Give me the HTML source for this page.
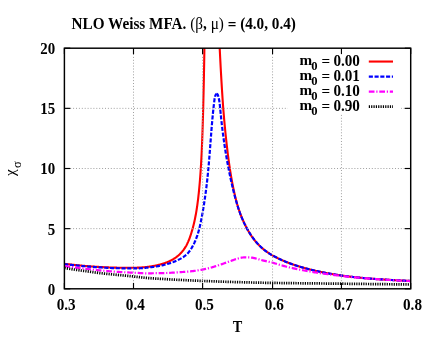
<!DOCTYPE html>
<html><head><meta charset="utf-8"><title>NLO Weiss MFA</title>
<style>
html,body{margin:0;padding:0;background:#fff;}
body{width:436px;height:337px;overflow:hidden;}
svg{display:block;will-change:transform;}
text{font-family:"Liberation Serif",serif;font-size:15.2px;fill:#000;}
.b{font-weight:bold;}
.grid{stroke:#a0a0a0;stroke-width:1;stroke-dasharray:1 1.9;fill:none;}
.tick{stroke:#000;stroke-width:1.15;fill:none;}
.c-red{stroke:#ff0000;stroke-width:2.1;fill:none;stroke-linejoin:round;}
.c-blue{stroke:#0000ff;stroke-width:2.2;fill:none;stroke-dasharray:4.1 1.65;stroke-linejoin:round;}
.c-mag{stroke:#ff00ff;stroke-width:2.2;fill:none;stroke-dasharray:5.7 1.8 1.2 1.8;stroke-linejoin:round;}
.c-blk{stroke:#000;stroke-width:2.7;fill:none;stroke-dasharray:1.2 1.14;}
</style></head>
<body>
<svg width="436" height="337" viewBox="0 0 436 337">
<rect x="0" y="0" width="436" height="337" fill="#fff"/>
<text transform="translate(71.55,28.9) scale(1.002,1.045)" class="b">NLO Weiss MFA. <tspan font-weight="normal">(&#946;</tspan>, <tspan font-weight="normal">&#956;)</tspan> <tspan dy="1.2">=</tspan><tspan dy="-1.2"> (4.0, 0.4)</tspan></text>
<clipPath id="clip"><rect x="64.4" y="48.2" width="346.29999999999995" height="240.60000000000002"/></clipPath>
<g clip-path="url(#clip)">
<path d="M64.40,263.85 L64.69,263.88 L64.98,263.91 L65.27,263.94 L65.57,263.97 L65.86,264.00 L66.15,264.03 L66.44,264.06 L66.73,264.09 L67.02,264.12 L67.31,264.15 L67.61,264.18 L67.90,264.21 L68.19,264.24 L68.48,264.28 L68.77,264.31 L69.06,264.34 L69.36,264.37 L69.65,264.40 L69.94,264.43 L70.23,264.46 L70.52,264.49 L70.81,264.52 L71.10,264.55 L71.40,264.58 L71.69,264.62 L71.98,264.65 L72.27,264.68 L72.56,264.71 L72.85,264.74 L73.14,264.77 L73.44,264.80 L73.73,264.83 L74.02,264.86 L74.31,264.89 L74.60,264.92 L74.89,264.95 L75.18,264.98 L75.48,265.01 L75.77,265.04 L76.06,265.07 L76.35,265.10 L76.64,265.13 L76.93,265.16 L77.22,265.19 L77.52,265.22 L77.81,265.25 L78.10,265.28 L78.39,265.31 L78.68,265.34 L78.97,265.36 L79.27,265.39 L79.56,265.42 L79.85,265.45 L80.14,265.48 L80.43,265.51 L80.72,265.54 L81.01,265.56 L81.31,265.59 L81.60,265.62 L81.89,265.65 L82.18,265.67 L82.47,265.70 L82.76,265.73 L83.05,265.76 L83.35,265.78 L83.64,265.81 L83.93,265.84 L84.22,265.86 L84.51,265.89 L84.80,265.91 L85.09,265.94 L85.39,265.97 L85.68,265.99 L85.97,266.02 L86.26,266.04 L86.55,266.07 L86.84,266.09 L87.14,266.12 L87.43,266.14 L87.72,266.16 L88.01,266.19 L88.30,266.21 L88.59,266.23 L88.88,266.26 L89.18,266.28 L89.47,266.30 L89.76,266.32 L90.05,266.35 L90.34,266.37 L90.63,266.39 L90.92,266.41 L91.22,266.43 L91.51,266.45 L91.80,266.47 L92.09,266.49 L92.38,266.52 L92.67,266.54 L92.96,266.56 L93.26,266.58 L93.55,266.60 L93.84,266.61 L94.13,266.63 L94.42,266.65 L94.71,266.67 L95.00,266.69 L95.30,266.71 L95.59,266.73 L95.88,266.75 L96.17,266.76 L96.46,266.78 L96.75,266.80 L97.05,266.82 L97.34,266.83 L97.63,266.85 L97.92,266.87 L98.21,266.89 L98.50,266.90 L98.79,266.92 L99.09,266.94 L99.38,266.95 L99.67,266.97 L99.96,266.99 L100.25,267.00 L100.54,267.02 L100.83,267.03 L101.13,267.05 L101.42,267.06 L101.71,267.08 L102.00,267.10 L102.29,267.11 L102.58,267.13 L102.87,267.14 L103.17,267.16 L103.46,267.17 L103.75,267.18 L104.04,267.20 L104.33,267.21 L104.62,267.23 L104.92,267.24 L105.21,267.26 L105.50,267.27 L105.79,267.28 L106.08,267.30 L106.37,267.31 L106.66,267.33 L106.96,267.34 L107.25,267.35 L107.54,267.36 L107.83,267.38 L108.12,267.39 L108.41,267.40 L108.70,267.41 L109.00,267.43 L109.29,267.44 L109.58,267.45 L109.87,267.46 L110.16,267.47 L110.45,267.48 L110.74,267.49 L111.04,267.51 L111.33,267.52 L111.62,267.53 L111.91,267.54 L112.20,267.55 L112.49,267.55 L112.78,267.56 L113.08,267.57 L113.37,267.58 L113.66,267.59 L113.95,267.60 L114.24,267.61 L114.53,267.62 L114.83,267.62 L115.12,267.63 L115.41,267.64 L115.70,267.64 L115.99,267.65 L116.28,267.66 L116.57,267.66 L116.87,267.67 L117.16,267.68 L117.45,267.68 L117.74,267.69 L118.03,267.69 L118.32,267.70 L118.61,267.70 L118.91,267.70 L119.20,267.71 L119.49,267.71 L119.78,267.71 L120.07,267.72 L120.36,267.72 L120.65,267.72 L120.95,267.73 L121.24,267.73 L121.53,267.73 L121.82,267.74 L122.11,267.74 L122.40,267.75 L122.69,267.75 L122.99,267.75 L123.28,267.76 L123.57,267.76 L123.86,267.77 L124.15,267.77 L124.44,267.77 L124.74,267.78 L125.03,267.78 L125.32,267.78 L125.61,267.79 L125.90,267.79 L126.19,267.79 L126.48,267.79 L126.78,267.80 L127.07,267.80 L127.36,267.80 L127.65,267.80 L127.94,267.80 L128.23,267.80 L128.52,267.80 L128.82,267.80 L129.11,267.80 L129.40,267.80 L129.69,267.80 L129.98,267.80 L130.27,267.80 L130.56,267.79 L130.86,267.79 L131.15,267.79 L131.44,267.79 L131.73,267.78 L132.02,267.78 L132.31,267.78 L132.61,267.77 L132.90,267.77 L133.19,267.77 L133.48,267.76 L133.77,267.76 L134.06,267.75 L134.35,267.75 L134.65,267.74 L134.94,267.74 L135.23,267.73 L135.52,267.73 L135.81,267.72 L136.10,267.71 L136.39,267.70 L136.69,267.69 L136.98,267.68 L137.27,267.67 L137.56,267.66 L137.85,267.65 L138.14,267.64 L138.43,267.63 L138.73,267.62 L139.02,267.60 L139.31,267.59 L139.60,267.57 L139.89,267.55 L140.18,267.54 L140.47,267.52 L140.77,267.50 L141.06,267.48 L141.35,267.46 L141.64,267.44 L141.93,267.42 L142.22,267.40 L142.52,267.37 L142.81,267.35 L143.10,267.33 L143.39,267.30 L143.68,267.28 L143.97,267.25 L144.26,267.22 L144.56,267.20 L144.85,267.17 L145.14,267.14 L145.43,267.11 L145.72,267.08 L146.01,267.05 L146.30,267.02 L146.60,266.98 L146.89,266.95 L147.18,266.92 L147.47,266.88 L147.76,266.85 L148.05,266.81 L148.34,266.77 L148.64,266.74 L148.93,266.70 L149.22,266.66 L149.51,266.62 L149.80,266.58 L150.09,266.53 L150.39,266.49 L150.68,266.45 L150.97,266.40 L151.26,266.36 L151.55,266.31 L151.84,266.26 L152.13,266.21 L152.43,266.16 L152.72,266.11 L153.01,266.06 L153.30,266.01 L153.59,265.96 L153.88,265.90 L154.17,265.85 L154.47,265.79 L154.76,265.73 L155.05,265.67 L155.34,265.61 L155.63,265.55 L155.92,265.49 L156.21,265.43 L156.51,265.37 L156.80,265.30 L157.09,265.24 L157.38,265.17 L157.67,265.10 L157.96,265.03 L158.25,264.96 L158.55,264.89 L158.84,264.82 L159.13,264.75 L159.42,264.67 L159.71,264.60 L160.00,264.52 L160.30,264.44 L160.59,264.36 L160.88,264.29 L161.17,264.20 L161.46,264.12 L161.75,264.04 L162.04,263.96 L162.34,263.87 L162.63,263.78 L162.92,263.69 L163.21,263.60 L163.50,263.51 L163.79,263.42 L164.08,263.32 L164.38,263.22 L164.67,263.12 L164.96,263.02 L165.25,262.92 L165.54,262.81 L165.83,262.70 L166.12,262.59 L166.42,262.48 L166.71,262.36 L167.00,262.24 L167.29,262.12 L167.58,262.00 L167.87,261.88 L168.17,261.75 L168.46,261.62 L168.75,261.49 L169.04,261.36 L169.33,261.22 L169.62,261.09 L169.91,260.95 L170.21,260.80 L170.50,260.66 L170.79,260.51 L171.08,260.36 L171.37,260.21 L171.66,260.05 L171.95,259.89 L172.25,259.73 L172.54,259.57 L172.83,259.40 L173.12,259.23 L173.41,259.05 L173.70,258.88 L173.99,258.70 L174.29,258.51 L174.58,258.32 L174.87,258.13 L175.16,257.94 L175.45,257.74 L175.74,257.53 L176.03,257.32 L176.33,257.11 L176.62,256.89 L176.91,256.67 L177.20,256.44 L177.49,256.21 L177.78,255.97 L178.08,255.72 L178.37,255.47 L178.66,255.22 L178.95,254.96 L179.24,254.69 L179.53,254.42 L179.82,254.14 L180.12,253.85 L180.41,253.56 L180.70,253.26 L180.99,252.95 L181.28,252.64 L181.57,252.32 L181.86,251.98 L182.16,251.64 L182.45,251.29 L182.74,250.93 L183.03,250.56 L183.32,250.18 L183.61,249.79 L183.90,249.38 L184.20,248.97 L184.49,248.54 L184.78,248.10 L185.07,247.64 L185.36,247.18 L185.65,246.69 L185.95,246.20 L186.24,245.69 L186.53,245.15 L186.82,244.58 L187.11,244.00 L187.40,243.38 L187.69,242.75 L187.99,242.10 L188.28,241.43 L188.57,240.73 L188.86,240.03 L189.15,239.30 L189.44,238.55 L189.73,237.77 L190.03,236.96 L190.32,236.13 L190.61,235.26 L190.90,234.38 L191.19,233.47 L191.48,232.53 L191.77,231.57 L192.07,230.58 L192.36,229.58 L192.65,228.54 L192.94,227.47 L193.23,226.35 L193.52,225.20 L193.81,224.00 L194.11,222.76 L194.40,221.48 L194.69,220.14 L194.98,218.74 L195.27,217.31 L195.56,215.80 L195.86,214.22 L196.15,212.57 L196.44,210.83 L196.73,209.01 L197.02,207.08 L197.31,205.06 L197.60,202.92 L197.90,200.66 L198.19,198.26 L198.48,195.72 L198.77,193.02 L199.06,190.15 L199.35,187.08 L199.64,183.80 L199.94,180.29 L200.23,176.52 L200.52,172.47 L200.81,168.08 L201.10,163.34 L201.39,158.18 L201.67,152.56 L201.94,146.40 L202.22,139.63 L202.49,132.15 L202.76,123.85 L203.03,114.58 L203.29,104.16 L203.58,92.36 L203.87,78.89 L204.16,63.38 L204.45,45.30 L204.74,23.99" class="c-red"/>
<path d="M217.99,15.54 L218.28,21.28 L218.56,26.90 L218.84,32.40 L219.12,37.77 L219.41,43.03 L219.69,48.16 L219.95,53.17 L220.19,58.06 L220.44,62.83 L220.68,67.47 L220.93,72.00 L221.18,76.41 L221.43,80.71 L221.68,84.89 L221.93,88.96 L222.18,92.92 L222.43,96.77 L222.69,100.52 L222.94,104.17 L223.19,107.72 L223.48,111.18 L223.76,114.53 L224.04,117.80 L224.32,120.98 L224.60,124.07 L224.89,127.08 L225.17,130.00 L225.45,132.85 L225.73,135.62 L226.02,138.31 L226.30,140.93 L226.58,143.48 L226.86,145.97 L227.15,148.38 L227.43,150.74 L227.71,153.03 L227.99,155.26 L228.28,157.43 L228.56,159.55 L228.84,161.61 L229.12,163.61 L229.41,165.57 L229.69,167.47 L229.97,169.33 L230.25,171.14 L230.53,172.91 L230.82,174.63 L231.10,176.31 L231.38,177.95 L231.66,179.54 L231.95,181.10 L232.23,182.62 L232.51,184.11 L232.79,185.55 L233.08,186.97 L233.36,188.35 L233.64,189.70 L233.92,191.02 L234.21,192.30 L234.49,193.56 L234.77,194.79 L235.05,195.99 L235.34,197.16 L235.62,198.31 L235.90,199.43 L236.19,200.53 L236.47,201.60 L236.76,202.65 L237.04,203.68 L237.33,204.68 L237.62,205.67 L237.90,206.63 L238.19,207.57 L238.48,208.49 L238.78,209.40 L239.07,210.28 L239.36,211.15 L239.66,212.00 L239.95,212.83 L240.25,213.65 L240.55,214.44 L240.85,215.23 L241.15,216.00 L241.45,216.75 L241.75,217.49 L242.05,218.21 L242.35,218.92 L242.65,219.62 L242.96,220.30 L243.26,220.97 L243.56,221.63 L243.86,222.28 L244.16,222.91 L244.45,223.53 L244.75,224.14 L245.05,224.74 L245.34,225.33 L245.63,225.91 L245.92,226.48 L246.21,227.04 L246.50,227.59 L246.79,228.13 L247.08,228.66 L247.36,229.18 L247.65,229.69 L247.93,230.20 L248.21,230.69 L248.49,231.18 L248.77,231.66 L249.05,232.13 L249.33,232.59 L249.60,233.05 L249.88,233.50 L250.15,233.94 L250.43,234.38 L250.70,234.80 L250.98,235.22 L251.25,235.64 L251.52,236.05 L251.80,236.45 L252.07,236.85 L252.34,237.24 L252.61,237.62 L252.89,238.00 L253.16,238.37 L253.43,238.74 L253.70,239.10 L253.98,239.46 L254.25,239.81 L254.52,240.15 L254.79,240.50 L255.07,240.83 L255.34,241.17 L255.61,241.49 L255.89,241.82 L256.16,242.13 L256.44,242.45 L256.71,242.76 L256.99,243.06 L257.26,243.37 L257.54,243.66 L257.81,243.96 L258.09,244.25 L258.36,244.53 L258.64,244.82 L258.91,245.09 L259.19,245.37 L259.47,245.64 L259.74,245.91 L260.02,246.17 L260.30,246.44 L260.58,246.69 L260.85,246.95 L261.13,247.20 L261.41,247.45 L261.69,247.70 L261.97,247.94 L262.25,248.18 L262.52,248.42 L262.80,248.65 L263.08,248.89 L263.36,249.11 L263.64,249.34 L263.92,249.57 L264.20,249.79 L264.48,250.01 L264.76,250.22 L265.04,250.44 L265.32,250.65 L265.60,250.86 L265.88,251.07 L266.16,251.27 L266.44,251.48 L266.72,251.68 L267.00,251.88 L267.28,252.07 L267.56,252.27 L267.84,252.46 L268.13,252.65 L268.41,252.84 L268.69,253.03 L268.97,253.21 L269.25,253.40 L269.53,253.58 L269.81,253.76 L270.09,253.93 L270.38,254.11 L270.66,254.29 L270.94,254.46 L271.22,254.63 L271.50,254.80 L271.78,254.97 L272.06,255.13 L272.35,255.30 L272.63,255.46 L272.91,255.63 L273.19,255.79 L273.47,255.95 L273.75,256.10 L274.04,256.26 L274.32,256.41 L274.60,256.57 L274.88,256.72 L275.16,256.87 L275.45,257.02 L275.73,257.17 L276.01,257.32 L276.29,257.46 L276.57,257.61 L276.86,257.75 L277.14,257.90 L277.42,258.04 L277.70,258.18 L277.98,258.32 L278.27,258.46 L278.55,258.59 L278.83,258.73 L279.11,258.86 L279.39,259.00 L279.68,259.13 L279.96,259.26 L280.24,259.39 L280.52,259.52 L280.81,259.65 L281.09,259.78 L281.37,259.91 L281.65,260.03 L281.93,260.16 L282.22,260.28 L282.50,260.41 L282.78,260.53 L283.06,260.65 L283.35,260.77 L283.63,260.89 L283.91,261.01 L284.19,261.13 L284.47,261.25 L284.76,261.36 L285.04,261.48 L285.32,261.59 L285.60,261.71 L285.89,261.82 L286.17,261.94 L286.45,262.05 L286.73,262.16 L287.02,262.27 L287.30,262.38 L287.58,262.49 L287.86,262.60 L288.14,262.71 L288.43,262.81 L288.71,262.92 L288.99,263.03 L289.27,263.13 L289.56,263.24 L289.84,263.34 L290.12,263.45 L290.40,263.55 L290.69,263.65 L290.97,263.75 L291.25,263.85 L291.53,263.95 L291.81,264.05 L292.10,264.15 L292.38,264.25 L292.66,264.35 L292.94,264.45 L293.23,264.54 L293.51,264.64 L293.79,264.74 L294.07,264.83 L294.36,264.93 L294.64,265.02 L294.92,265.11 L295.20,265.21 L295.49,265.30 L295.77,265.39 L296.05,265.48 L296.33,265.58 L296.61,265.67 L296.90,265.76 L297.18,265.85 L297.46,265.94 L297.74,266.02 L298.03,266.11 L298.31,266.20 L298.59,266.29 L298.87,266.37 L299.16,266.46 L299.44,266.55 L299.72,266.63 L300.00,266.72 L300.29,266.80 L300.57,266.89 L300.85,266.97 L301.13,267.05 L301.42,267.14 L301.70,267.22 L301.98,267.30 L302.26,267.38 L302.54,267.46 L302.83,267.54 L303.11,267.63 L303.39,267.71 L303.67,267.78 L303.96,267.86 L304.24,267.94 L304.52,268.02 L304.80,268.10 L305.09,268.18 L305.37,268.25 L305.65,268.33 L305.93,268.41 L306.22,268.48 L306.50,268.56 L306.78,268.63 L307.06,268.71 L307.35,268.78 L307.63,268.86 L307.91,268.93 L308.19,269.00 L308.47,269.08 L308.76,269.15 L309.04,269.22 L309.32,269.29 L309.60,269.37 L309.89,269.44 L310.17,269.51 L310.45,269.58 L310.73,269.65 L311.02,269.72 L311.30,269.79 L311.58,269.86 L311.86,269.93 L312.15,270.00 L312.43,270.06 L312.71,270.13 L312.99,270.20 L313.28,270.27 L313.56,270.33 L313.84,270.40 L314.12,270.47 L314.40,270.53 L314.69,270.60 L314.97,270.66 L315.25,270.73 L315.53,270.79 L315.82,270.86 L316.10,270.92 L316.38,270.98 L316.66,271.05 L316.95,271.11 L317.23,271.17 L317.51,271.23 L317.79,271.30 L318.08,271.36 L318.36,271.42 L318.64,271.48 L318.92,271.54 L319.21,271.60 L319.49,271.66 L319.77,271.72 L320.05,271.78 L320.34,271.84 L320.62,271.90 L320.90,271.96 L321.18,272.02 L321.46,272.08 L321.75,272.13 L322.03,272.19 L322.31,272.25 L322.59,272.31 L322.88,272.36 L323.16,272.42 L323.44,272.48 L323.72,272.53 L324.01,272.59 L324.29,272.64 L324.57,272.70 L324.85,272.75 L325.14,272.81 L325.42,272.86 L325.70,272.91 L325.98,272.97 L326.27,273.02 L326.55,273.07 L326.83,273.13 L327.11,273.18 L327.39,273.23 L327.68,273.28 L327.96,273.34 L328.24,273.39 L328.52,273.44 L328.81,273.49 L329.09,273.54 L329.37,273.59 L329.65,273.64 L329.94,273.69 L330.22,273.74 L330.50,273.79 L330.78,273.84 L331.07,273.89 L331.35,273.94 L331.63,273.98 L331.91,274.03 L332.20,274.08 L332.48,274.13 L332.76,274.18 L333.04,274.22 L333.33,274.27 L333.61,274.32 L333.89,274.36 L334.17,274.41 L334.45,274.45 L334.74,274.50 L335.02,274.55 L335.30,274.59 L335.58,274.64 L335.87,274.68 L336.15,274.72 L336.43,274.77 L336.71,274.81 L337.00,274.86 L337.28,274.90 L337.56,274.94 L337.84,274.99 L338.13,275.03 L338.41,275.07 L338.69,275.11 L338.97,275.16 L339.26,275.20 L339.54,275.24 L339.82,275.28 L340.10,275.32 L340.38,275.36 L340.67,275.40 L340.95,275.44 L341.23,275.48 L341.51,275.52 L341.80,275.56 L342.08,275.60 L342.36,275.64 L342.64,275.68 L342.93,275.72 L343.21,275.76 L343.49,275.80 L343.77,275.84 L344.06,275.87 L344.34,275.91 L344.62,275.95 L344.90,275.99 L345.19,276.02 L345.47,276.06 L345.75,276.10 L346.03,276.14 L346.31,276.17 L346.60,276.21 L346.88,276.24 L347.16,276.28 L347.44,276.32 L347.73,276.35 L348.01,276.39 L348.29,276.42 L348.57,276.46 L348.86,276.49 L349.14,276.52 L349.42,276.56 L349.70,276.59 L349.99,276.63 L350.27,276.66 L350.55,276.69 L350.83,276.73 L351.12,276.76 L351.40,276.79 L351.68,276.83 L351.96,276.86 L352.25,276.89 L352.53,276.92 L352.81,276.95 L353.09,276.99 L353.37,277.02 L353.66,277.05 L353.94,277.08 L354.22,277.11 L354.50,277.14 L354.79,277.17 L355.07,277.20 L355.35,277.23 L355.63,277.26 L355.92,277.29 L356.20,277.32 L356.48,277.35 L356.76,277.38 L357.05,277.41 L357.33,277.44 L357.61,277.47 L357.89,277.50 L358.18,277.53 L358.46,277.55 L358.74,277.58 L359.02,277.61 L359.30,277.64 L359.59,277.67 L359.87,277.69 L360.15,277.72 L360.43,277.75 L360.72,277.78 L361.00,277.80 L361.28,277.83 L361.56,277.86 L361.85,277.88 L362.13,277.91 L362.41,277.93 L362.69,277.96 L362.98,277.99 L363.26,278.01 L363.54,278.04 L363.82,278.06 L364.11,278.09 L364.39,278.11 L364.67,278.14 L364.95,278.16 L365.24,278.19 L365.52,278.21 L365.80,278.24 L366.08,278.26 L366.36,278.29 L366.65,278.31 L366.93,278.33 L367.21,278.36 L367.49,278.38 L367.78,278.40 L368.06,278.43 L368.34,278.45 L368.62,278.47 L368.91,278.50 L369.19,278.52 L369.47,278.54 L369.75,278.56 L370.04,278.59 L370.32,278.61 L370.60,278.63 L370.88,278.65 L371.17,278.67 L371.45,278.70 L371.73,278.72 L372.01,278.74 L372.29,278.76 L372.58,278.78 L372.86,278.80 L373.14,278.82 L373.42,278.84 L373.71,278.86 L373.99,278.89 L374.27,278.91 L374.55,278.93 L374.84,278.95 L375.12,278.97 L375.40,278.99 L375.68,279.01 L375.97,279.03 L376.25,279.05 L376.53,279.07 L376.81,279.09 L377.10,279.10 L377.38,279.12 L377.66,279.14 L377.94,279.16 L378.23,279.18 L378.51,279.20 L378.79,279.22 L379.07,279.24 L379.35,279.26 L379.64,279.27 L379.92,279.29 L380.20,279.31 L380.48,279.33 L380.77,279.35 L381.05,279.37 L381.33,279.38 L381.61,279.40 L381.90,279.42 L382.18,279.44 L382.46,279.45 L382.74,279.47 L383.03,279.49 L383.31,279.51 L383.59,279.52 L383.87,279.54 L384.16,279.56 L384.44,279.58 L384.72,279.59 L385.00,279.61 L385.28,279.63 L385.57,279.64 L385.85,279.66 L386.13,279.68 L386.41,279.69 L386.70,279.71 L386.98,279.73 L387.26,279.74 L387.54,279.76 L387.83,279.78 L388.11,279.79 L388.39,279.81 L388.67,279.82 L388.96,279.84 L389.24,279.86 L389.52,279.87 L389.80,279.89 L390.09,279.90 L390.37,279.92 L390.65,279.93 L390.93,279.95 L391.22,279.97 L391.50,279.98 L391.78,280.00 L392.06,280.01 L392.34,280.03 L392.63,280.04 L392.91,280.06 L393.19,280.07 L393.47,280.09 L393.76,280.10 L394.04,280.12 L394.32,280.13 L394.60,280.15 L394.89,280.17 L395.17,280.18 L395.45,280.20 L395.73,280.21 L396.02,280.23 L396.30,280.24 L396.58,280.25 L396.86,280.27 L397.15,280.28 L397.43,280.30 L397.71,280.31 L397.99,280.33 L398.27,280.34 L398.56,280.36 L398.84,280.37 L399.12,280.39 L399.40,280.40 L399.69,280.42 L399.97,280.43 L400.25,280.45 L400.53,280.46 L400.82,280.48 L401.10,280.49 L401.38,280.51 L401.66,280.52 L401.95,280.54 L402.23,280.55 L402.51,280.57 L402.79,280.58 L403.08,280.59 L403.36,280.61 L403.64,280.62 L403.92,280.64 L404.21,280.65 L404.49,280.67 L404.77,280.68 L405.05,280.70 L405.33,280.71 L405.62,280.73 L405.90,280.74 L406.18,280.76 L406.46,280.77 L406.75,280.79 L407.03,280.80 L407.31,280.82 L407.59,280.83 L407.88,280.85 L408.16,280.86 L408.44,280.88 L408.72,280.89 L409.01,280.91 L409.29,280.92 L409.57,280.94 L409.85,280.96 L410.14,280.97 L410.42,280.99 L410.70,281.00" class="c-red"/>
<path d="M216.72,93.76 L216.37,93.92 L216.06,94.32 L215.78,94.78 L215.54,95.25 L215.33,95.75 L215.15,96.26 L215.00,96.78 L214.86,97.32 L214.75,97.87 L214.65,98.42 L214.56,98.98 L214.49,99.54 L214.41,100.10 L214.35,100.66 L214.28,101.22 L214.21,101.78 L214.14,102.33 L214.08,102.89 L214.01,103.44 L213.95,103.99 L213.89,104.53 L213.82,105.08 L213.76,105.63 L213.70,106.17 L213.64,106.72 L213.58,107.26 L213.52,107.80 L213.46,108.35 L213.40,108.89 L213.34,109.43 L213.28,109.98 L213.22,110.52 L213.17,111.07 L213.11,111.61 L213.06,112.16 L213.00,112.70 L212.95,113.24 L212.89,113.79 L212.84,114.33 L212.79,114.88 L212.73,115.42 L212.68,115.97 L212.63,116.52 L212.58,117.06 L212.53,117.61 L212.47,118.15 L212.42,118.70 L212.37,119.24 L212.33,119.79 L212.28,120.34 L212.23,120.88 L212.18,121.43 L212.13,121.97 L212.08,122.52 L212.04,123.07 L211.99,123.61 L211.94,124.16 L211.90,124.71 L211.85,125.25 L211.80,125.80 L211.76,126.35 L211.71,126.89 L211.67,127.44 L211.62,127.99 L211.58,128.54 L211.53,129.08 L211.49,129.63 L211.45,130.18 L211.40,130.72 L211.36,131.27 L211.32,131.82 L211.27,132.37 L211.23,132.92 L211.19,133.46 L211.15,134.01 L211.10,134.56 L211.06,135.11 L211.02,135.65 L210.98,136.20 L210.93,136.75 L210.89,137.30 L210.85,137.85 L210.81,138.39 L210.77,138.94 L210.73,139.49 L210.68,140.04 L210.64,140.59 L210.60,141.14 L210.56,141.68 L210.52,142.23 L210.48,142.78 L210.44,143.33 L210.40,143.88 L210.35,144.43 L210.31,144.98 L210.27,145.52 L210.23,146.07 L210.19,146.62 L210.15,147.17 L210.10,147.72 L210.06,148.27 L210.02,148.81 L209.98,149.36 L209.94,149.91 L209.90,150.46 L209.85,151.01 L209.81,151.56 L209.77,152.11 L209.73,152.65 L209.68,153.20 L209.64,153.75 L209.60,154.30 L209.55,154.85 L209.51,155.40 L209.47,155.95 L209.42,156.49 L209.38,157.04 L209.33,157.59 L209.29,158.14 L209.24,158.69 L209.20,159.24 L209.15,159.78 L209.11,160.33 L209.06,160.88 L209.02,161.43 L208.97,161.98 L208.92,162.53 L208.88,163.07 L208.83,163.62 L208.78,164.17 L208.73,164.72 L208.68,165.27 L208.63,165.81 L208.59,166.36 L208.54,166.91 L208.49,167.46 L208.44,168.01 L208.38,168.55 L208.33,169.10 L208.28,169.65 L208.23,170.20 L208.18,170.74 L208.12,171.29 L208.07,171.84 L208.02,172.39 L207.96,172.93 L207.91,173.48 L207.85,174.03 L207.80,174.57 L207.74,175.12 L207.69,175.67 L207.63,176.21 L207.57,176.76 L207.51,177.31 L207.45,177.85 L207.40,178.40 L207.34,178.95 L207.28,179.49 L207.22,180.04 L207.16,180.59 L207.10,181.13 L207.03,181.68 L206.97,182.22 L206.91,182.77 L206.85,183.32 L206.78,183.86 L206.72,184.41 L206.65,184.95 L206.59,185.50 L206.52,186.04 L206.46,186.59 L206.39,187.14 L206.32,187.68 L206.25,188.23 L206.18,188.77 L206.12,189.32 L206.05,189.86 L205.98,190.41 L205.91,190.95 L205.83,191.50 L205.76,192.04 L205.69,192.58 L205.62,193.13 L205.54,193.67 L205.47,194.22 L205.39,194.76 L205.32,195.31 L205.24,195.85 L205.17,196.39 L205.09,196.94 L205.01,197.48 L204.93,198.02 L204.85,198.57 L204.78,199.11 L204.70,199.65 L204.61,200.20 L204.53,200.74 L204.45,201.28 L204.37,201.83 L204.29,202.37 L204.20,202.91 L204.12,203.45 L204.03,204.00 L203.95,204.54 L203.86,205.08 L203.77,205.62 L203.68,206.17 L203.60,206.71 L203.51,207.25 L203.42,207.79 L203.33,208.33 L203.24,208.87 L203.14,209.42 L203.05,209.96 L202.96,210.50 L202.86,211.04 L202.77,211.58 L202.67,212.12 L202.58,212.66 L202.48,213.20 L202.38,213.74 L202.29,214.28 L202.19,214.82 L202.09,215.36 L201.99,215.90 L201.89,216.44 L201.78,216.98 L201.68,217.52 L201.58,218.06 L201.47,218.60 L201.37,219.14 L201.26,219.68 L201.16,220.22 L201.05,220.76 L200.94,221.30 L200.83,221.84 L200.72,222.37 L200.61,222.91 L200.50,223.45 L200.38,223.99 L200.27,224.52 L200.15,225.06 L200.03,225.60 L199.91,226.13 L199.78,226.67 L199.65,227.20 L199.52,227.73 L199.39,228.27 L199.26,228.80 L199.12,229.33 L198.98,229.86 L198.83,230.41 L198.68,230.95 L198.53,231.49 L198.38,232.03 L198.22,232.57 L198.06,233.11 L197.89,233.66 L197.72,234.20 L197.55,234.74 L197.37,235.28 L197.18,235.82 L196.99,236.37 L196.80,236.91 L196.60,237.45 L196.40,237.99 L196.19,238.54 L195.98,239.08 L195.76,239.63 L195.54,240.17 L195.31,240.71 L195.07,241.25 L194.83,241.80 L194.59,242.34 L194.34,242.88 L194.08,243.41 L193.82,243.95 L193.55,244.48 L193.27,245.02 L192.99,245.55 L192.71,246.09 L192.41,246.63 L192.12,247.17 L191.81,247.71 L191.50,248.24 L191.18,248.77 L190.86,249.28 L190.52,249.79 L190.19,250.28 L189.84,250.75 L189.49,251.21 L189.13,251.67 L188.77,252.12 L188.40,252.57 L188.02,253.00 L187.63,253.42 L187.24,253.83 L186.84,254.23 L186.44,254.61 L186.03,254.97 L185.61,255.32 L185.19,255.65 L184.77,255.98 L184.33,256.30 L183.90,256.61 L183.46,256.92 L183.01,257.21 L182.56,257.50 L182.10,257.78 L181.64,258.06 L181.17,258.33 L180.71,258.60 L180.23,258.86 L179.76,259.12 L179.27,259.37 L178.79,259.62 L178.30,259.86 L177.81,260.10 L177.32,260.33 L176.82,260.56 L176.32,260.78 L175.82,261.00 L175.32,261.21 L174.81,261.42 L174.30,261.62 L173.79,261.82 L173.28,262.02 L172.76,262.21 L172.24,262.40 L171.73,262.58 L171.21,262.76 L170.69,262.94 L170.17,263.11 L169.64,263.28 L169.12,263.45 L168.60,263.61 L168.07,263.77 L167.55,263.93 L167.02,264.08 L166.50,264.23 L165.97,264.38 L165.44,264.52 L164.92,264.67 L164.39,264.80 L163.86,264.94 L163.33,265.07 L162.80,265.20 L162.27,265.32 L161.74,265.44 L161.20,265.56 L160.67,265.67 L160.14,265.79 L159.61,265.89 L159.07,266.00 L158.54,266.09 L158.00,266.19 L157.47,266.28 L156.93,266.37 L156.39,266.45 L155.86,266.53 L155.32,266.61 L154.78,266.69 L154.24,266.76 L153.71,266.83 L153.17,266.90 L152.63,266.97 L152.09,267.04 L151.55,267.11 L151.01,267.18 L150.47,267.24 L149.92,267.31 L149.38,267.38 L148.84,267.45 L148.30,267.51 L147.75,267.57 L147.21,267.64 L146.67,267.70 L146.12,267.76 L145.58,267.81 L145.04,267.87 L144.49,267.92 L143.95,267.97 L143.40,268.02 L142.86,268.07 L142.31,268.11 L141.77,268.15 L141.22,268.19 L140.67,268.23 L140.13,268.26 L139.58,268.29 L139.03,268.31 L138.49,268.33 L137.94,268.35 L137.39,268.36 L136.84,268.38 L136.30,268.39 L135.75,268.39 L135.20,268.40 L134.65,268.40 L134.10,268.40 L133.56,268.40 L133.01,268.40 L132.46,268.40 L131.91,268.40 L131.36,268.40 L130.81,268.40 L130.26,268.40 L129.72,268.40 L129.17,268.40 L128.62,268.40 L128.07,268.39 L127.52,268.39 L126.97,268.38 L126.42,268.37 L125.87,268.37 L125.32,268.36 L124.77,268.35 L124.23,268.34 L123.68,268.33 L123.13,268.32 L122.58,268.31 L122.03,268.30 L121.48,268.29 L120.93,268.28 L120.38,268.27 L119.83,268.27 L119.28,268.26 L118.73,268.25 L118.18,268.24 L117.63,268.23 L117.08,268.21 L116.53,268.20 L115.99,268.19 L115.44,268.17 L114.89,268.15 L114.34,268.14 L113.79,268.12 L113.24,268.10 L112.69,268.08 L112.14,268.06 L111.59,268.03 L111.04,268.01 L110.49,267.99 L109.94,267.96 L109.39,267.94 L108.84,267.91 L108.29,267.88 L107.74,267.85 L107.19,267.82 L106.65,267.79 L106.10,267.76 L105.55,267.73 L105.00,267.70 L104.45,267.66 L103.90,267.63 L103.35,267.60 L102.80,267.56 L102.25,267.53 L101.70,267.49 L101.15,267.46 L100.60,267.43 L100.06,267.39 L99.51,267.36 L98.96,267.32 L98.41,267.29 L97.86,267.25 L97.31,267.21 L96.76,267.18 L96.21,267.14 L95.67,267.10 L95.12,267.06 L94.57,267.03 L94.02,266.99 L93.47,266.95 L92.92,266.91 L92.37,266.87 L91.83,266.83 L91.28,266.79 L90.73,266.74 L90.18,266.70 L89.63,266.66 L89.09,266.61 L88.54,266.57 L87.99,266.52 L87.44,266.48 L86.89,266.43 L86.35,266.38 L85.80,266.33 L85.25,266.28 L84.70,266.23 L84.16,266.18 L83.61,266.13 L83.06,266.08 L82.52,266.03 L81.97,265.98 L81.42,265.93 L80.87,265.87 L80.33,265.82 L79.78,265.77 L79.23,265.72 L78.69,265.66 L78.14,265.61 L77.60,265.56 L77.05,265.50 L76.50,265.45 L75.96,265.39 L75.41,265.34 L74.86,265.28 L74.32,265.23 L73.77,265.17 L73.23,265.12 L72.68,265.06 L72.14,265.01 L71.59,264.95 L71.05,264.89 L70.50,264.84 L69.96,264.78 L69.41,264.73 L68.87,264.67 L68.32,264.61 L67.78,264.56 L67.23,264.50 L66.69,264.45 L66.15,264.39 L65.60,264.33 L65.06,264.28 L64.51,264.22" class="c-blue" stroke-dashoffset="0.6"/>
<path d="M216.72,93.76 L217.11,93.94 L217.46,94.32 L217.74,94.79 L217.96,95.30 L218.14,95.83 L218.30,96.38 L218.45,96.92 L218.59,97.47 L218.73,98.02 L218.85,98.56 L218.96,99.11 L219.07,99.66 L219.17,100.21 L219.27,100.76 L219.36,101.31 L219.44,101.86 L219.52,102.41 L219.59,102.95 L219.66,103.50 L219.73,104.05 L219.79,104.60 L219.85,105.15 L219.90,105.70 L219.96,106.25 L220.01,106.80 L220.06,107.35 L220.12,107.90 L220.17,108.45 L220.22,109.00 L220.27,109.55 L220.32,110.10 L220.38,110.65 L220.43,111.19 L220.48,111.74 L220.54,112.29 L220.59,112.84 L220.64,113.39 L220.70,113.94 L220.76,114.48 L220.81,115.03 L220.87,115.58 L220.92,116.13 L220.98,116.67 L221.04,117.22 L221.09,117.77 L221.15,118.31 L221.21,118.86 L221.27,119.41 L221.33,119.95 L221.39,120.50 L221.45,121.04 L221.51,121.59 L221.57,122.14 L221.63,122.68 L221.69,123.23 L221.75,123.77 L221.82,124.32 L221.88,124.86 L221.94,125.41 L222.01,125.95 L222.07,126.50 L222.13,127.04 L222.20,127.59 L222.26,128.13 L222.33,128.68 L222.40,129.22 L222.46,129.76 L222.53,130.31 L222.60,130.85 L222.67,131.40 L222.73,131.94 L222.80,132.48 L222.87,133.03 L222.94,133.57 L223.01,134.11 L223.08,134.66 L223.16,135.20 L223.23,135.74 L223.30,136.28 L223.37,136.83 L223.44,137.37 L223.52,137.91 L223.59,138.45 L223.67,139.00 L223.74,139.54 L223.82,140.08 L223.89,140.62 L223.97,141.17 L224.05,141.71 L224.12,142.25 L224.20,142.79 L224.28,143.33 L224.36,143.87 L224.44,144.41 L224.52,144.96 L224.60,145.50 L224.68,146.04 L224.76,146.58 L224.84,147.12 L224.93,147.66 L225.01,148.20 L225.09,148.74 L225.18,149.28 L225.26,149.82 L225.35,150.36 L225.43,150.90 L225.52,151.44 L225.61,151.98 L225.69,152.52 L225.78,153.06 L225.87,153.60 L225.96,154.14 L226.05,154.68 L226.14,155.22 L226.23,155.76 L226.32,156.30 L226.41,156.84 L226.50,157.38 L226.60,157.92 L226.69,158.46 L226.78,159.00 L226.88,159.54 L226.97,160.08 L227.07,160.62 L227.17,161.16 L227.26,161.70 L227.36,162.23 L227.46,162.77 L227.56,163.31 L227.66,163.85 L227.76,164.39 L227.86,164.93 L227.96,165.47 L228.06,166.01 L228.16,166.54 L228.27,167.08 L228.37,167.62 L228.47,168.16 L228.58,168.70 L228.68,169.24 L228.79,169.77 L228.90,170.31 L229.00,170.85 L229.11,171.39 L229.22,171.93 L229.33,172.46 L229.44,173.00 L229.55,173.54 L229.66,174.08 L229.77,174.62 L229.88,175.15 L230.00,175.69 L230.11,176.23 L230.22,176.77 L230.34,177.31 L230.45,177.84 L230.57,178.38 L230.69,178.92 L230.80,179.46 L230.92,179.99 L231.04,180.53 L231.16,181.07 L231.28,181.61 L231.40,182.14 L231.52,182.68 L231.64,183.22 L231.77,183.76 L231.89,184.29 L232.02,184.83 L232.14,185.37 L232.27,185.91 L232.39,186.44 L232.52,186.98 L232.65,187.52 L232.78,188.06 L232.90,188.59 L233.03,189.13 L233.16,189.67 L233.30,190.21 L233.43,190.74 L233.56,191.28 L233.69,191.82 L233.83,192.36 L233.96,192.89 L234.10,193.43 L234.24,193.97 L234.37,194.50 L234.51,195.04 L234.65,195.58 L234.79,196.11 L234.94,196.65 L235.08,197.18 L235.22,197.72 L235.37,198.25 L235.51,198.79 L235.66,199.32 L235.81,199.85 L235.96,200.39 L236.11,200.92 L236.26,201.45 L236.42,201.99 L236.57,202.52 L236.73,203.05 L236.89,203.58 L237.05,204.11 L237.21,204.64 L237.37,205.17 L237.53,205.69 L237.70,206.22 L237.87,206.75 L238.04,207.27 L238.21,207.80 L238.38,208.32 L238.55,208.85 L238.73,209.37 L238.90,209.89 L239.08,210.42 L239.26,210.94 L239.45,211.46 L239.63,211.98 L239.82,212.49 L240.00,213.01 L240.19,213.53 L240.39,214.04 L240.58,214.56 L240.78,215.07 L240.98,215.58 L241.18,216.09 L241.38,216.60 L241.58,217.11 L241.79,217.62 L242.00,218.13 L242.21,218.63 L242.42,219.14 L242.64,219.64 L242.85,220.14 L243.07,220.65 L243.30,221.14 L243.52,221.64 L243.75,222.14 L243.98,222.64 L244.21,223.13 L244.45,223.62 L244.68,224.12 L244.92,224.61 L245.17,225.10 L245.41,225.58 L245.66,226.07 L245.91,226.55 L246.16,227.04 L246.42,227.52 L246.67,228.00 L246.94,228.48 L247.20,228.95 L247.47,229.43 L247.74,229.90 L248.01,230.37 L248.28,230.85 L248.56,231.31 L248.84,231.78 L249.13,232.25 L249.42,232.71 L249.71,233.17 L250.00,233.63 L250.30,234.09 L250.60,234.54 L250.90,235.00 L251.21,235.45 L251.51,235.90 L251.83,236.35 L252.14,236.80 L252.46,237.24 L252.78,237.68 L253.11,238.13 L253.44,238.56 L253.77,239.00 L254.11,239.44 L254.45,239.87 L254.79,240.30 L255.14,240.73 L255.49,241.15 L255.84,241.58 L256.20,242.00 L256.56,242.41 L256.92,242.83 L257.29,243.24 L257.66,243.65 L258.03,244.06 L258.41,244.46 L258.79,244.86 L259.18,245.26 L259.57,245.66 L259.96,246.05 L260.35,246.43 L260.75,246.82 L261.15,247.20 L261.55,247.57 L261.96,247.95 L262.37,248.32 L262.79,248.68 L263.21,249.04 L263.63,249.40 L264.05,249.75 L264.48,250.10 L264.91,250.44 L265.35,250.78 L265.78,251.11 L266.22,251.44 L266.67,251.77 L267.12,252.08 L267.57,252.40 L268.02,252.71 L268.48,253.01 L268.94,253.31 L269.40,253.61 L269.87,253.90 L270.33,254.18 L270.80,254.47 L271.28,254.74 L271.75,255.02 L272.23,255.29 L272.71,255.56 L273.19,255.82 L273.68,256.08 L274.16,256.34 L274.65,256.60 L275.14,256.85 L275.63,257.10 L276.12,257.35 L276.61,257.59 L277.10,257.83 L277.60,258.08 L278.09,258.32 L278.59,258.55 L279.08,258.79 L279.58,259.02 L280.08,259.26 L280.58,259.49 L281.08,259.72 L281.58,259.95 L282.08,260.17 L282.58,260.39 L283.08,260.62 L283.58,260.84 L284.09,261.05 L284.59,261.27 L285.10,261.48 L285.61,261.69 L286.11,261.90 L286.62,262.11 L287.13,262.32 L287.64,262.52 L288.15,262.72 L288.66,262.92 L289.18,263.12 L289.69,263.31 L290.20,263.50 L290.72,263.69 L291.24,263.88 L291.75,264.07 L292.27,264.25 L292.79,264.43 L293.31,264.61 L293.83,264.78 L294.35,264.95 L294.88,265.12 L295.40,265.29 L295.93,265.46 L296.45,265.62 L296.98,265.78 L297.51,265.94 L298.04,266.09 L298.31,266.20 L298.59,266.29 L298.87,266.37 L299.16,266.46 L299.44,266.55 L299.72,266.63 L300.00,266.72 L300.29,266.80 L300.57,266.89 L300.85,266.97 L301.13,267.05 L301.42,267.14 L301.70,267.22 L301.98,267.30 L302.26,267.38 L302.54,267.46 L302.83,267.54 L303.11,267.63 L303.39,267.71 L303.67,267.78 L303.96,267.86 L304.24,267.94 L304.52,268.02 L304.80,268.10 L305.09,268.18 L305.37,268.25 L305.65,268.33 L305.93,268.41 L306.22,268.48 L306.50,268.56 L306.78,268.63 L307.06,268.71 L307.35,268.78 L307.63,268.86 L307.91,268.93 L308.19,269.00 L308.47,269.08 L308.76,269.15 L309.04,269.22 L309.32,269.29 L309.60,269.37 L309.89,269.44 L310.17,269.51 L310.45,269.58 L310.73,269.65 L311.02,269.72 L311.30,269.79 L311.58,269.86 L311.86,269.93 L312.15,270.00 L312.43,270.06 L312.71,270.13 L312.99,270.20 L313.28,270.27 L313.56,270.33 L313.84,270.40 L314.12,270.47 L314.40,270.53 L314.69,270.60 L314.97,270.66 L315.25,270.73 L315.53,270.79 L315.82,270.86 L316.10,270.92 L316.38,270.98 L316.66,271.05 L316.95,271.11 L317.23,271.17 L317.51,271.23 L317.79,271.30 L318.08,271.36 L318.36,271.42 L318.64,271.48 L318.92,271.54 L319.21,271.60 L319.49,271.66 L319.77,271.72 L320.05,271.78 L320.34,271.84 L320.62,271.90 L320.90,271.96 L321.18,272.02 L321.46,272.08 L321.75,272.13 L322.03,272.19 L322.31,272.25 L322.59,272.31 L322.88,272.36 L323.16,272.42 L323.44,272.48 L323.72,272.53 L324.01,272.59 L324.29,272.64 L324.57,272.70 L324.85,272.75 L325.14,272.81 L325.42,272.86 L325.70,272.91 L325.98,272.97 L326.27,273.02 L326.55,273.07 L326.83,273.13 L327.11,273.18 L327.39,273.23 L327.68,273.28 L327.96,273.34 L328.24,273.39 L328.52,273.44 L328.81,273.49 L329.09,273.54 L329.37,273.59 L329.65,273.64 L329.94,273.69 L330.22,273.74 L330.50,273.79 L330.78,273.84 L331.07,273.89 L331.35,273.94 L331.63,273.98 L331.91,274.03 L332.20,274.08 L332.48,274.13 L332.76,274.18 L333.04,274.22 L333.33,274.27 L333.61,274.32 L333.89,274.36 L334.17,274.41 L334.45,274.45 L334.74,274.50 L335.02,274.55 L335.30,274.59 L335.58,274.64 L335.87,274.68 L336.15,274.72 L336.43,274.77 L336.71,274.81 L337.00,274.86 L337.28,274.90 L337.56,274.94 L337.84,274.99 L338.13,275.03 L338.41,275.07 L338.69,275.11 L338.97,275.16 L339.26,275.20 L339.54,275.24 L339.82,275.28 L340.10,275.32 L340.38,275.36 L340.67,275.40 L340.95,275.44 L341.23,275.48 L341.51,275.52 L341.80,275.56 L342.08,275.60 L342.36,275.64 L342.64,275.68 L342.93,275.72 L343.21,275.76 L343.49,275.80 L343.77,275.84 L344.06,275.87 L344.34,275.91 L344.62,275.95 L344.90,275.99 L345.19,276.02 L345.47,276.06 L345.75,276.10 L346.03,276.14 L346.31,276.17 L346.60,276.21 L346.88,276.24 L347.16,276.28 L347.44,276.32 L347.73,276.35 L348.01,276.39 L348.29,276.42 L348.57,276.46 L348.86,276.49 L349.14,276.52 L349.42,276.56 L349.70,276.59 L349.99,276.63 L350.27,276.66 L350.55,276.69 L350.83,276.73 L351.12,276.76 L351.40,276.79 L351.68,276.83 L351.96,276.86 L352.25,276.89 L352.53,276.92 L352.81,276.95 L353.09,276.99 L353.37,277.02 L353.66,277.05 L353.94,277.08 L354.22,277.11 L354.50,277.14 L354.79,277.17 L355.07,277.20 L355.35,277.23 L355.63,277.26 L355.92,277.29 L356.20,277.32 L356.48,277.35 L356.76,277.38 L357.05,277.41 L357.33,277.44 L357.61,277.47 L357.89,277.50 L358.18,277.53 L358.46,277.55 L358.74,277.58 L359.02,277.61 L359.30,277.64 L359.59,277.67 L359.87,277.69 L360.15,277.72 L360.43,277.75 L360.72,277.78 L361.00,277.80 L361.28,277.83 L361.56,277.86 L361.85,277.88 L362.13,277.91 L362.41,277.93 L362.69,277.96 L362.98,277.99 L363.26,278.01 L363.54,278.04 L363.82,278.06 L364.11,278.09 L364.39,278.11 L364.67,278.14 L364.95,278.16 L365.24,278.19 L365.52,278.21 L365.80,278.24 L366.08,278.26 L366.36,278.29 L366.65,278.31 L366.93,278.33 L367.21,278.36 L367.49,278.38 L367.78,278.40 L368.06,278.43 L368.34,278.45 L368.62,278.47 L368.91,278.50 L369.19,278.52 L369.47,278.54 L369.75,278.56 L370.04,278.59 L370.32,278.61 L370.60,278.63 L370.88,278.65 L371.17,278.67 L371.45,278.70 L371.73,278.72 L372.01,278.74 L372.29,278.76 L372.58,278.78 L372.86,278.80 L373.14,278.82 L373.42,278.84 L373.71,278.86 L373.99,278.89 L374.27,278.91 L374.55,278.93 L374.84,278.95 L375.12,278.97 L375.40,278.99 L375.68,279.01 L375.97,279.03 L376.25,279.05 L376.53,279.07 L376.81,279.09 L377.10,279.10 L377.38,279.12 L377.66,279.14 L377.94,279.16 L378.23,279.18 L378.51,279.20 L378.79,279.22 L379.07,279.24 L379.35,279.26 L379.64,279.27 L379.92,279.29 L380.20,279.31 L380.48,279.33 L380.77,279.35 L381.05,279.37 L381.33,279.38 L381.61,279.40 L381.90,279.42 L382.18,279.44 L382.46,279.45 L382.74,279.47 L383.03,279.49 L383.31,279.51 L383.59,279.52 L383.87,279.54 L384.16,279.56 L384.44,279.58 L384.72,279.59 L385.00,279.61 L385.28,279.63 L385.57,279.64 L385.85,279.66 L386.13,279.68 L386.41,279.69 L386.70,279.71 L386.98,279.73 L387.26,279.74 L387.54,279.76 L387.83,279.78 L388.11,279.79 L388.39,279.81 L388.67,279.82 L388.96,279.84 L389.24,279.86 L389.52,279.87 L389.80,279.89 L390.09,279.90 L390.37,279.92 L390.65,279.93 L390.93,279.95 L391.22,279.97 L391.50,279.98 L391.78,280.00 L392.06,280.01 L392.34,280.03 L392.63,280.04 L392.91,280.06 L393.19,280.07 L393.47,280.09 L393.76,280.10 L394.04,280.12 L394.32,280.13 L394.60,280.15 L394.89,280.17 L395.17,280.18 L395.45,280.20 L395.73,280.21 L396.02,280.23 L396.30,280.24 L396.58,280.25 L396.86,280.27 L397.15,280.28 L397.43,280.30 L397.71,280.31 L397.99,280.33 L398.27,280.34 L398.56,280.36 L398.84,280.37 L399.12,280.39 L399.40,280.40 L399.69,280.42 L399.97,280.43 L400.25,280.45 L400.53,280.46 L400.82,280.48 L401.10,280.49 L401.38,280.51 L401.66,280.52 L401.95,280.54 L402.23,280.55 L402.51,280.57 L402.79,280.58 L403.08,280.59 L403.36,280.61 L403.64,280.62 L403.92,280.64 L404.21,280.65 L404.49,280.67 L404.77,280.68 L405.05,280.70 L405.33,280.71 L405.62,280.73 L405.90,280.74 L406.18,280.76 L406.46,280.77 L406.75,280.79 L407.03,280.80 L407.31,280.82 L407.59,280.83 L407.88,280.85 L408.16,280.86 L408.44,280.88 L408.72,280.89 L409.01,280.91 L409.29,280.92 L409.57,280.94 L409.85,280.96 L410.14,280.97 L410.42,280.99 L410.70,281.00" class="c-blue" stroke-dashoffset="0.6"/>
<path d="M64.50,266.10 L65.66,266.26 L66.82,266.42 L67.97,266.58 L69.13,266.74 L70.29,266.89 L71.45,267.04 L72.61,267.20 L73.76,267.34 L74.92,267.49 L76.08,267.63 L77.24,267.78 L78.39,267.91 L79.55,268.05 L80.71,268.19 L81.87,268.32 L83.03,268.46 L84.18,268.59 L85.34,268.72 L86.50,268.86 L87.66,269.00 L88.82,269.13 L89.97,269.27 L91.13,269.41 L92.29,269.55 L93.45,269.69 L94.60,269.82 L95.76,269.96 L96.92,270.09 L98.08,270.21 L99.24,270.33 L100.39,270.44 L101.55,270.55 L102.71,270.65 L103.87,270.76 L105.03,270.86 L106.18,270.96 L107.34,271.06 L108.50,271.16 L109.66,271.26 L110.81,271.35 L111.97,271.44 L113.13,271.53 L114.29,271.62 L115.45,271.70 L116.60,271.78 L117.76,271.86 L118.92,271.93 L120.08,272.00 L121.24,272.07 L122.39,272.14 L123.55,272.20 L124.71,272.26 L125.87,272.32 L127.02,272.37 L128.18,272.43 L129.34,272.48 L130.50,272.53 L131.66,272.59 L132.81,272.64 L133.97,272.70 L135.13,272.76 L136.29,272.83 L137.45,272.90 L138.60,272.97 L139.76,273.05 L140.92,273.12 L142.08,273.18 L143.23,273.23 L144.39,273.27 L145.55,273.29 L146.71,273.30 L147.87,273.30 L149.02,273.29 L150.18,273.29 L151.34,273.28 L152.50,273.27 L153.66,273.25 L154.81,273.24 L155.97,273.22 L157.13,273.21 L158.29,273.19 L159.44,273.17 L160.60,273.15 L161.76,273.12 L162.92,273.10 L164.08,273.07 L165.23,273.04 L166.39,272.99 L167.55,272.94 L168.71,272.89 L169.87,272.82 L171.02,272.76 L172.18,272.68 L173.34,272.61 L174.50,272.53 L175.65,272.46 L176.81,272.38 L177.97,272.30 L179.13,272.22 L180.29,272.15 L181.44,272.07 L182.60,271.99 L183.76,271.91 L184.92,271.83 L186.08,271.74 L187.23,271.65 L188.39,271.55 L189.55,271.44 L190.71,271.33 L191.86,271.21 L193.02,271.08 L194.18,270.94 L195.34,270.78 L196.50,270.62 L197.65,270.45 L198.81,270.27 L199.97,270.07 L201.13,269.86 L202.29,269.64 L203.44,269.40 L204.60,269.15 L205.76,268.90 L206.92,268.63 L208.07,268.35 L209.23,268.07 L210.39,267.77 L211.55,267.45 L212.71,267.12 L213.86,266.77 L215.02,266.40 L216.18,266.03 L217.34,265.65 L218.50,265.26 L219.65,264.88 L220.81,264.50 L221.97,264.11 L223.13,263.71 L224.28,263.30 L225.44,262.89 L226.60,262.48 L227.76,262.07 L228.92,261.66 L230.07,261.25 L231.23,260.84 L232.39,260.40 L233.55,259.96 L234.71,259.52 L235.86,259.12 L237.02,258.75 L238.18,258.45 L239.34,258.19 L240.49,257.93 L241.65,257.69 L242.81,257.50 L243.97,257.38 L245.13,257.35 L246.28,257.36 L247.44,257.38 L248.60,257.41 L249.76,257.44 L250.92,257.52 L252.07,257.68 L253.23,257.90 L254.39,258.15 L255.55,258.40 L256.70,258.70 L257.86,259.04 L259.02,259.39 L260.18,259.72 L261.34,260.02 L262.49,260.33 L263.65,260.63 L264.81,260.91 L265.97,261.19 L267.13,261.45 L268.28,261.69 L269.44,261.93 L270.60,262.17 L271.76,262.44 L272.91,262.74 L274.07,263.08 L275.23,263.44 L276.39,263.81 L277.55,264.18 L278.70,264.55 L279.86,264.89 L281.02,265.21 L282.18,265.54 L283.34,265.85 L284.49,266.16 L285.65,266.47 L286.81,266.77 L287.97,267.06 L289.12,267.34 L290.28,267.61 L291.44,267.88 L292.60,268.13 L293.76,268.38 L294.91,268.63 L296.07,268.87 L297.23,269.11 L298.39,269.34 L299.55,269.57 L300.70,269.80 L301.86,270.02 L303.02,270.25 L304.18,270.46 L305.33,270.68 L306.49,270.89 L307.65,271.10 L308.81,271.31 L309.97,271.51 L311.12,271.72 L312.28,271.92 L313.44,272.12 L314.60,272.32 L315.76,272.51 L316.91,272.70 L318.07,272.88 L319.23,273.06 L320.39,273.23 L321.54,273.39 L322.70,273.54 L323.86,273.70 L325.02,273.84 L326.18,273.99 L327.33,274.14 L328.49,274.28 L329.65,274.43 L330.81,274.58 L331.97,274.73 L333.12,274.89 L334.28,275.04 L335.44,275.19 L336.60,275.34 L337.75,275.49 L338.91,275.63 L340.07,275.77 L341.23,275.91 L342.39,276.04 L343.54,276.18 L344.70,276.30 L345.86,276.43 L347.02,276.56 L348.18,276.68 L349.33,276.81 L350.49,276.93 L351.65,277.05 L352.81,277.16 L353.96,277.28 L355.12,277.39 L356.28,277.50 L357.44,277.60 L358.60,277.71 L359.75,277.81 L360.91,277.91 L362.07,278.01 L363.23,278.10 L364.39,278.20 L365.54,278.29 L366.70,278.38 L367.86,278.47 L369.02,278.56 L370.17,278.65 L371.33,278.73 L372.49,278.82 L373.65,278.90 L374.81,278.99 L375.96,279.07 L377.12,279.15 L378.28,279.23 L379.44,279.32 L380.60,279.40 L381.75,279.48 L382.91,279.56 L384.07,279.63 L385.23,279.71 L386.38,279.78 L387.54,279.86 L388.70,279.93 L389.86,280.00 L391.02,280.07 L392.17,280.14 L393.33,280.21 L394.49,280.27 L395.65,280.34 L396.81,280.40 L397.96,280.47 L399.12,280.53 L400.28,280.59 L401.44,280.65 L402.59,280.71 L403.75,280.77 L404.91,280.83 L406.07,280.89 L407.23,280.94 L408.38,281.00 L409.54,281.05 L410.70,281.10" class="c-mag"/>
<path d="M64.50,268.00 L68.00,268.60 L71.49,269.16 L74.99,269.70 L78.49,270.20 L81.98,270.66 L85.48,271.13 L88.98,271.61 L92.48,272.11 L95.97,272.59 L99.47,273.04 L102.97,273.44 L106.46,273.81 L109.96,274.17 L113.46,274.51 L116.95,274.84 L120.45,275.17 L123.95,275.50 L127.45,275.83 L130.94,276.18 L134.44,276.55 L137.94,276.95 L141.43,277.38 L144.93,277.76 L148.43,278.06 L151.92,278.31 L155.42,278.54 L158.92,278.76 L162.42,278.96 L165.91,279.17 L169.41,279.37 L172.91,279.56 L176.40,279.74 L179.90,279.92 L183.40,280.09 L186.89,280.25 L190.39,280.41 L193.89,280.56 L197.38,280.71 L200.88,280.86 L204.38,280.99 L207.88,281.13 L211.37,281.27 L214.87,281.40 L218.37,281.53 L221.86,281.65 L225.36,281.77 L228.86,281.88 L232.35,281.98 L235.85,282.08 L239.35,282.18 L242.85,282.27 L246.34,282.36 L249.84,282.45 L253.34,282.53 L256.83,282.61 L260.33,282.68 L263.83,282.76 L267.32,282.82 L270.82,282.88 L274.32,282.94 L277.82,282.99 L281.31,283.04 L284.81,283.08 L288.31,283.13 L291.80,283.17 L295.30,283.21 L298.80,283.25 L302.29,283.29 L305.79,283.32 L309.29,283.36 L312.78,283.40 L316.28,283.43 L319.78,283.47 L323.28,283.50 L326.77,283.54 L330.27,283.57 L333.77,283.61 L337.26,283.65 L340.76,283.69 L344.26,283.73 L347.75,283.77 L351.25,283.81 L354.75,283.85 L358.25,283.89 L361.74,283.93 L365.24,283.97 L368.74,284.01 L372.23,284.05 L375.73,284.09 L379.23,284.13 L382.72,284.17 L386.22,284.21 L389.72,284.25 L393.22,284.29 L396.71,284.34 L400.21,284.38 L403.71,284.42 L407.20,284.46 L410.70,284.50" class="c-blk"/>
</g>
<g>
<line x1="133.50" y1="48.2" x2="133.50" y2="288.8" class="grid"/>
<line x1="202.60" y1="48.2" x2="202.60" y2="288.8" class="grid"/>
<line x1="272.55" y1="48.2" x2="272.55" y2="288.8" class="grid"/>
<line x1="341.45" y1="48.2" x2="341.45" y2="288.8" class="grid"/>
<line x1="64.4" y1="228.65" x2="410.7" y2="228.65" class="grid"/>
<line x1="64.4" y1="168.50" x2="410.7" y2="168.50" class="grid"/>
<line x1="64.4" y1="108.35" x2="410.7" y2="108.35" class="grid"/>
</g>
<rect x="287.5" y="49.3" width="113.5" height="64" fill="#fff"/>
<g>
<line x1="64.40" y1="288.8" x2="64.40" y2="282.90000000000003" class="tick"/>
<line x1="64.40" y1="48.2" x2="64.40" y2="54.1" class="tick"/>
<line x1="133.50" y1="288.8" x2="133.50" y2="282.90000000000003" class="tick"/>
<line x1="133.50" y1="48.2" x2="133.50" y2="54.1" class="tick"/>
<line x1="202.60" y1="288.8" x2="202.60" y2="282.90000000000003" class="tick"/>
<line x1="202.60" y1="48.2" x2="202.60" y2="54.1" class="tick"/>
<line x1="272.55" y1="288.8" x2="272.55" y2="282.90000000000003" class="tick"/>
<line x1="272.55" y1="48.2" x2="272.55" y2="54.1" class="tick"/>
<line x1="341.45" y1="288.8" x2="341.45" y2="282.90000000000003" class="tick"/>
<line x1="341.45" y1="48.2" x2="341.45" y2="54.1" class="tick"/>
<line x1="410.70" y1="288.8" x2="410.70" y2="282.90000000000003" class="tick"/>
<line x1="410.70" y1="48.2" x2="410.70" y2="54.1" class="tick"/>
<line x1="64.4" y1="288.80" x2="70.30000000000001" y2="288.80" class="tick"/>
<line x1="410.7" y1="288.80" x2="404.8" y2="288.80" class="tick"/>
<line x1="64.4" y1="228.65" x2="70.30000000000001" y2="228.65" class="tick"/>
<line x1="410.7" y1="228.65" x2="404.8" y2="228.65" class="tick"/>
<line x1="64.4" y1="168.50" x2="70.30000000000001" y2="168.50" class="tick"/>
<line x1="410.7" y1="168.50" x2="404.8" y2="168.50" class="tick"/>
<line x1="64.4" y1="108.35" x2="70.30000000000001" y2="108.35" class="tick"/>
<line x1="410.7" y1="108.35" x2="404.8" y2="108.35" class="tick"/>
<line x1="64.4" y1="48.20" x2="70.30000000000001" y2="48.20" class="tick"/>
<line x1="410.7" y1="48.20" x2="404.8" y2="48.20" class="tick"/>
</g>
<rect x="64.4" y="48.2" width="346.29999999999995" height="240.60000000000002" fill="none" stroke="#000" stroke-width="1.45"/>
<g>
<text transform="translate(66.20,309.55) scale(1,1.09)" text-anchor="middle" class="b">0.3</text>
<text transform="translate(135.30,309.55) scale(1,1.09)" text-anchor="middle" class="b">0.4</text>
<text transform="translate(204.40,309.55) scale(1,1.09)" text-anchor="middle" class="b">0.5</text>
<text transform="translate(274.35,309.55) scale(1,1.09)" text-anchor="middle" class="b">0.6</text>
<text transform="translate(343.25,309.55) scale(1,1.09)" text-anchor="middle" class="b">0.7</text>
<text transform="translate(412.50,309.55) scale(1,1.09)" text-anchor="middle" class="b">0.8</text>
<text transform="translate(55.2,294.65) scale(0.98,1.09)" text-anchor="end" class="b">0</text>
<text transform="translate(55.2,234.50) scale(0.98,1.09)" text-anchor="end" class="b">5</text>
<text transform="translate(55.2,174.35) scale(0.98,1.09)" text-anchor="end" class="b">10</text>
<text transform="translate(55.2,114.20) scale(0.98,1.09)" text-anchor="end" class="b">15</text>
<text transform="translate(55.2,54.05) scale(0.98,1.09)" text-anchor="end" class="b">20</text>
</g>
<g>
<text y="65.2" class="b"><tspan x="299.4">m</tspan><tspan x="311.3" dy="4.7" font-size="12.6">0</tspan><tspan x="321.4" dy="-3.5">=</tspan></text>
<text transform="translate(333.4,65.7) scale(1,1.09)" class="b">0.00</text>
<line x1="368.8" y1="61.55" x2="393" y2="61.55" class="c-red"/>
<text y="80.2" class="b"><tspan x="299.4">m</tspan><tspan x="311.3" dy="4.7" font-size="12.6">0</tspan><tspan x="321.4" dy="-3.5">=</tspan></text>
<text transform="translate(333.4,80.7) scale(1,1.09)" class="b">0.01</text>
<line x1="368.8" y1="76.55" x2="393" y2="76.55" class="c-blue"/>
<text y="95.2" class="b"><tspan x="299.4">m</tspan><tspan x="311.3" dy="4.7" font-size="12.6">0</tspan><tspan x="321.4" dy="-3.5">=</tspan></text>
<text transform="translate(333.4,95.7) scale(1,1.09)" class="b">0.10</text>
<line x1="368.8" y1="91.55" x2="393" y2="91.55" class="c-mag"/>
<text y="110.2" class="b"><tspan x="299.4">m</tspan><tspan x="311.3" dy="4.7" font-size="12.6">0</tspan><tspan x="321.4" dy="-3.5">=</tspan></text>
<text transform="translate(333.4,110.7) scale(1,1.09)" class="b">0.90</text>
<line x1="368.8" y1="106.55" x2="393" y2="106.55" class="c-blk"/>
</g>
<text transform="translate(237.6,331.85) scale(0.94,1.10)" text-anchor="middle" class="b">T</text>
<text transform="translate(14.9,176) rotate(-90)" font-size="15.8">&#967;<tspan dx="1.2" dy="5.6" font-size="12.6">&#963;</tspan></text>
</svg>
</body></html>
